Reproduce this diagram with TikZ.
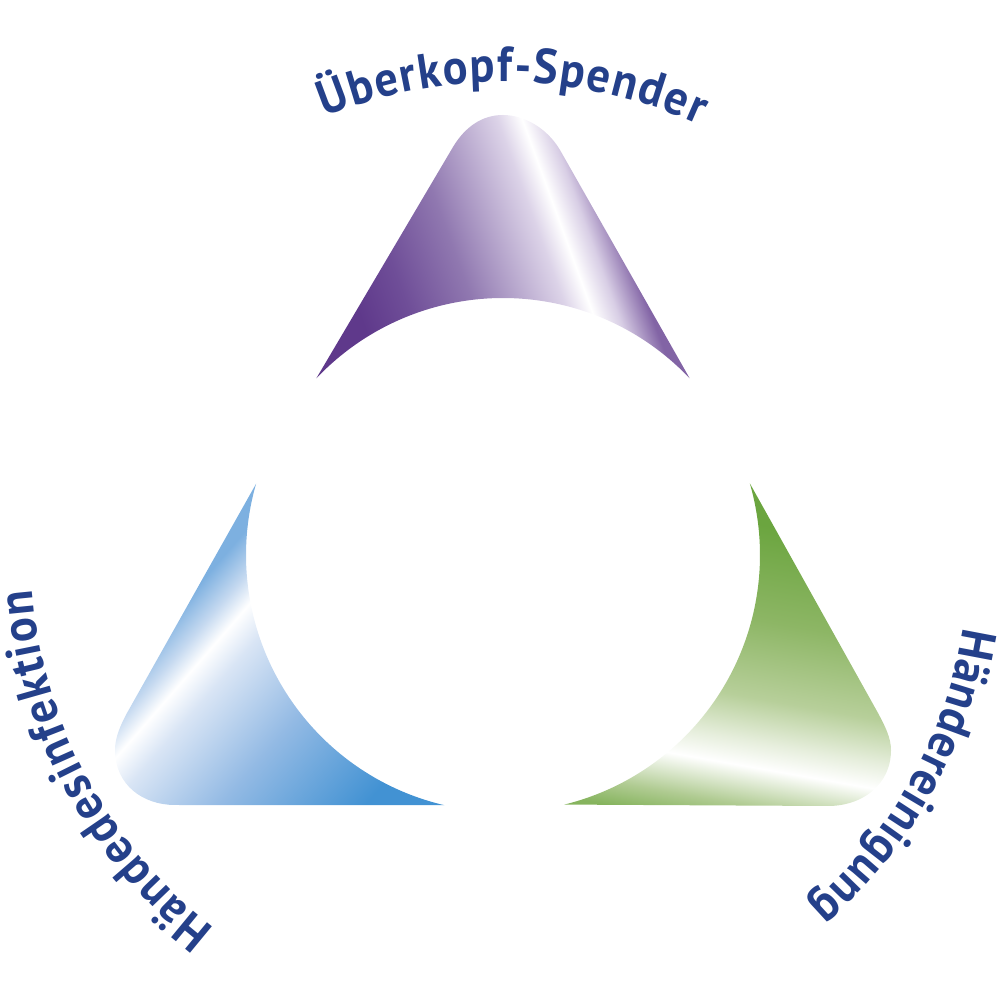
\documentclass[tikz,border=0pt]{standalone}
\usepackage{fontspec}
\setmainfont[BoldFeatures={FakeStretch=0.94}]{PT Sans}
\usetikzlibrary{decorations.text}
\definecolor{labelblue}{HTML}{24408A}
\definecolor{pa}{HTML}{5F398B}\definecolor{pf}{HTML}{6F4E98}\definecolor{pb}{HTML}{9078B0}\definecolor{pc}{HTML}{DCD3E8}
\definecolor{pd}{HTML}{D8CEE5}\definecolor{pe}{HTML}{8264A5}
\definecolor{ba}{HTML}{7DB0E0}\definecolor{bb}{HTML}{C5D9F0}\definecolor{bc}{HTML}{D9E5F5}
\definecolor{bd}{HTML}{93BAE4}\definecolor{be}{HTML}{4292D3}
\definecolor{ga}{HTML}{86B45E}\definecolor{gb}{HTML}{B0CB92}\definecolor{gc}{HTML}{E6EEDC}
\definecolor{gd}{HTML}{B7CF9A}\definecolor{ge}{HTML}{8DB665}\definecolor{gf}{HTML}{6BA53F}
\pgfdeclarehorizontalshading{purpleshade}{100bp}{color(0bp)=(pa);color(39bp)=(pa);color(41.4bp)=(pf);color(44.54bp)=(pb);color(48.83bp)=(pc);color(50bp)=(white);color(51.17bp)=(pd);color(52.73bp)=(pe);color(100bp)=(pe)}
\pgfdeclarehorizontalshading{blueshade}{100bp}{color(0bp)=(ba);color(47.45bp)=(ba);color(48.94bp)=(bb);color(50bp)=(white);color(51.42bp)=(bc);color(55.5bp)=(bd);color(61bp)=(be);color(100bp)=(be)}
\pgfdeclarehorizontalshading{greenshade}{100bp}{color(0bp)=(ga);color(46.89bp)=(ga);color(48.06bp)=(gb);color(50bp)=(white);color(51.3bp)=(gc);color(53.45bp)=(gd);color(57.34bp)=(ge);color(62.09bp)=(gf);color(100bp)=(gf)}
\tikzset{
  bandfill/.style={shading=#1},
  arclabel/.style={decorate,decoration={text along path,text align={fit to path},text={#1}}}
}
\newcommand{\lblfont}{\fontsize{28}{28}\selectfont\bfseries\color{labelblue}}
\begin{document}
\begin{tikzpicture}[x=0.02cm,y=0.02cm]
\useasboundingbox (0,0) rectangle (1000,1000);
\coordinate (C) at (503,445);
% top
\begin{scope}
\path[clip] ([shift={(136.6:257)}]C) -- (453,853) .. controls (465,873) and (482,885) .. (503,885)
  .. controls (524,885) and (547,872) .. (560,850) -- ([shift={(43.4:257)}]C)
  arc[start angle=43.4,end angle=136.6,radius=257] -- cycle;
\shade[bandfill=purpleshade,shading angle=20] (23,378) rectangle (1023,1378);
\end{scope}
% left
\begin{scope}
\path[clip] ([shift={(163.9:257)}]C) -- (127,287) .. controls (120,274) and (115,262) .. (115,250)
  .. controls (115,215) and (143,195) .. (175,195) -- ([shift={(256.8:257)}]C)
  arc[start angle=256.8,end angle=163.9,radius=257] -- cycle;
\shade[bandfill=blueshade,shading angle=-41] (-252,-105) rectangle (748,895);
\end{scope}
% right
\begin{scope}
\path[clip] ([shift={(16.2:257)}]C) -- (878,287) .. controls (885,274) and (891,262) .. (891,250)
  .. controls (891,215) and (862,194) .. (828,194) -- ([shift={(-76.2:257)}]C)
  arc[start angle=-76.2,end angle=16.2,radius=257] -- cycle;
\shade[bandfill=greenshade,shading angle=80] (172,-253) rectangle (1172,747);
\end{scope}
% labels
\path[arclabel={|\lblfont|Überkopf-Spender}] ([shift={(112.2:473)}]C) arc[start angle=112.2,end angle=65.5,radius=473];
\path[arclabel={|\lblfont|Händedesinfektion}] ([shift={(232.3:472)}]C) arc[start angle=232.3,end angle=184.2,radius=472];
\path[arclabel={|\lblfont|Händereinigung}] ([shift={(-8.9:466)}]C) arc[start angle=-8.9,end angle=-48.9,radius=466];
\end{tikzpicture}
\end{document}
